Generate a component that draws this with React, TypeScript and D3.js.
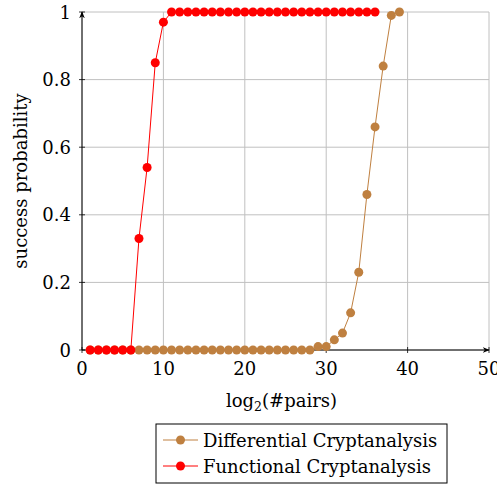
import React from 'react';
import * as d3 from 'd3';

const xTicks = [0, 10, 20, 30, 40, 50];
const yTicks = [0, 0.2, 0.4, 0.6, 0.8, 1];

// Differential Cryptanalysis: x = 1..39
const diffX = d3.range(1, 40);
const diffY = [
  0, 0, 0, 0, 0, 0, 0, 0, 0, 0,
  0, 0, 0, 0, 0, 0, 0, 0, 0, 0,
  0, 0, 0, 0, 0, 0, 0, 0, 0.01, 0.01,
  0.03, 0.05, 0.11, 0.23, 0.46, 0.66, 0.84, 0.99, 1.0,
];

// Functional Cryptanalysis: x = 1..36
const funcX = d3.range(1, 37);
const funcY = [
  0, 0, 0, 0, 0, 0, 0.33, 0.54, 0.85, 0.97,
  1, 1, 1, 1, 1, 1, 1, 1, 1, 1,
  1, 1, 1, 1, 1, 1, 1, 1, 1, 1,
  1, 1, 1, 1, 1, 1,
];

const BROWN = '#bf8040';
const RED = '#ff0000';
const FONT = 'DejaVu Serif';
const FS = 18;

const W = 497;
const H = 484;
const M = { left: 82, right: 8, top: 12, bottom: 134 };

export default function App() {
  const x = d3.scaleLinear().domain([0, 50]).range([M.left, W - M.right]);
  const y = d3.scaleLinear().domain([0, 1]).range([H - M.bottom, M.top]);
  const line = d3.line<[number, number]>().x(d => x(d[0])).y(d => y(d[1]));

  const diffPts: [number, number][] = diffX.map((v, i) => [v, diffY[i]]);
  const funcPts: [number, number][] = funcX.map((v, i) => [v, funcY[i]]);

  const x0 = x(0), x1 = x(50), y0 = y(0), y1 = y(1);

  return (
    <svg width={W} height={H} fontFamily={FONT} style={{ position: 'absolute', left: 0, top: 0 }}>
      <defs>
        <marker id="arr" viewBox="0 0 10 10" refX="9" refY="5" markerWidth="7" markerHeight="7" orient="auto">
          <path d="M0,1 L10,5 L0,9 L3,5 Z" fill="#000" />
        </marker>
      </defs>
      {/* grid */}
      <g stroke="#c0c0c0" strokeWidth={1}>
        {xTicks.map(t => (
          <line key={'gx' + t} x1={x(t)} x2={x(t)} y1={y0} y2={y1} />
        ))}
        {yTicks.map(t => (
          <line key={'gy' + t} x1={x0} x2={x1} y1={y(t)} y2={y(t)} />
        ))}
      </g>
      {/* axes */}
      <line x1={x0} x2={x1} y1={y0} y2={y0} stroke="#000" strokeWidth={1} markerEnd="url(#arr)" />
      <line x1={x0} x2={x0} y1={y0} y2={y1} stroke="#000" strokeWidth={1} markerEnd="url(#arr)" />
      <g stroke="#000" strokeWidth={0.8}>
        {xTicks.map(t => (
          <line key={'tx' + t} x1={x(t)} x2={x(t)} y1={y0 - 3} y2={y0 + 3} />
        ))}
        {yTicks.map(t => (
          <line key={'ty' + t} x1={x0 - 3} x2={x0 + 3} y1={y(t)} y2={y(t)} />
        ))}
      </g>
      <g fontSize={FS} fill="#000">
        {xTicks.map(t => (
          <text key={'lx' + t} x={x(t)} y={y0 + 25} textAnchor="middle">{t}</text>
        ))}
        {yTicks.map(t => (
          <text key={'ly' + t} x={x0 - 11} y={y(t) + 6.5} textAnchor="end">{t === 0 || t === 1 ? t : t.toFixed(1)}</text>
        ))}
      </g>
      {/* series */}
      <path d={line(diffPts) || ''} fill="none" stroke={BROWN} strokeWidth={1} />
      {diffPts.map((p, i) => (
        <circle key={'d' + i} cx={x(p[0])} cy={y(p[1])} r={4.5} fill={BROWN} />
      ))}
      <path d={line(funcPts) || ''} fill="none" stroke={RED} strokeWidth={1} />
      {funcPts.map((p, i) => (
        <circle key={'f' + i} cx={x(p[0])} cy={y(p[1])} r={4.5} fill={RED} />
      ))}
      {/* axis labels */}
      <text x={(x0 + x1) / 2 - 4} y={407} textAnchor="middle" fontSize={FS}>
        log<tspan fontSize={12.5} dy={4}>2</tspan><tspan dy={-4}>(#pairs)</tspan>
      </text>
      <text transform={`translate(27,${(y0 + y1) / 2}) rotate(-90)`} textAnchor="middle" fontSize={FS}>
        success probability
      </text>
      {/* legend */}
      <g transform="translate(156,424)">
        <rect x={0} y={0} width={291} height={59} fill="#fff" stroke="#000" strokeWidth={1} />
        <line x1={7} x2={42} y1={16} y2={16} stroke={BROWN} strokeWidth={1} />
        <circle cx={24.5} cy={16} r={4.5} fill={BROWN} />
        <text x={47} y={22.5} fontSize={FS}>Differential Cryptanalysis</text>
        <line x1={7} x2={42} y1={42} y2={42} stroke={RED} strokeWidth={1} />
        <circle cx={24.5} cy={42} r={4.5} fill={RED} />
        <text x={47} y={48.5} fontSize={FS}>Functional Cryptanalysis</text>
      </g>
    </svg>
  );
}
